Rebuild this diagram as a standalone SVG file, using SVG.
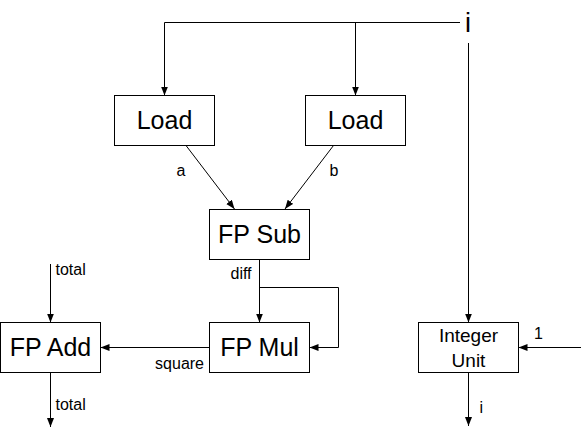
<svg xmlns="http://www.w3.org/2000/svg" width="581" height="430" viewBox="0 0 581 430">
<defs>
<marker id="arr" markerUnits="userSpaceOnUse" markerWidth="10" markerHeight="8" refX="9" refY="3.5" orient="auto">
<path d="M0,0 L9,3.5 L0,7 z" fill="#000"/>
</marker>
<style>
rect.box{fill:#fff;stroke:#000;stroke-width:1}
.big{font-family:"Liberation Sans",Arial,sans-serif;font-size:25px;fill:#000;text-anchor:middle}
.mid{font-family:"Liberation Sans",Arial,sans-serif;font-size:19px;fill:#000;text-anchor:middle}
.lbl{font-family:"Liberation Sans",Arial,sans-serif;font-size:16px;fill:#000}
.edge{fill:none;stroke:#000;stroke-width:1}
.arr{marker-end:url(#arr)}
</style>
</defs>
<rect width="581" height="430" fill="#fff"/>
<g id="connectors">
<path class="edge" d="M164.5,22.5 H460"/>
<path class="edge arr" d="M164.5,22.5 V95.5"/>
<path class="edge arr" d="M355.5,22.5 V95.5"/>
<path class="edge arr" d="M186,145.5 L234.5,209"/>
<path class="edge arr" d="M333.5,145.5 L285,209"/>
<path class="edge arr" d="M259.5,259.5 V322.5"/>
<path class="edge arr" d="M259.5,287.5 H338.5 V347.5 H309.5"/>
<path class="edge arr" d="M209.5,347.5 H100.5"/>
<path class="edge arr" d="M50.5,264 V322.5"/>
<path class="edge arr" d="M50.5,372.5 V427"/>
<path class="edge arr" d="M468.5,43 V322.5"/>
<path class="edge arr" d="M581,347.5 H518.5"/>
<path class="edge arr" d="M468.5,372.5 V426"/>
<text class="lbl" x="176.5" y="176">a</text>
<text class="lbl" x="329.5" y="176">b</text>
<text class="lbl" x="230.5" y="279">diff</text>
<text class="lbl" x="204" y="369" text-anchor="end">square</text>
<text class="lbl" x="55.5" y="275">total</text>
<text class="lbl" x="55.5" y="410">total</text>
<text class="lbl" x="534" y="339">1</text>
<text class="lbl" x="479.5" y="413">i</text>
<text class="big" x="468" y="32" style="font-size:27px">i</text>
</g>
<g id="load-a"><rect class="box" x="114.5" y="95.5" width="100" height="50"/><text class="big" x="164.5" y="129">Load</text></g>
<g id="load-b"><rect class="box" x="305.5" y="95.5" width="100" height="50"/><text class="big" x="355.5" y="129">Load</text></g>
<g id="fp-sub"><rect class="box" x="209.5" y="209.5" width="100" height="50"/><text class="big" x="259.5" y="243">FP Sub</text></g>
<g id="fp-mul"><rect class="box" x="209.5" y="322.5" width="100" height="50"/><text class="big" x="259.5" y="356">FP Mul</text></g>
<g id="fp-add"><rect class="box" x="0.5" y="322.5" width="100" height="50"/><text class="big" x="50.5" y="356">FP Add</text></g>
<g id="integer-unit"><rect class="box" x="418.5" y="322.5" width="100" height="50"/><text class="mid" x="468.5" y="342">Integer</text><text class="mid" x="468.5" y="366.5">Unit</text></g>
</svg>
